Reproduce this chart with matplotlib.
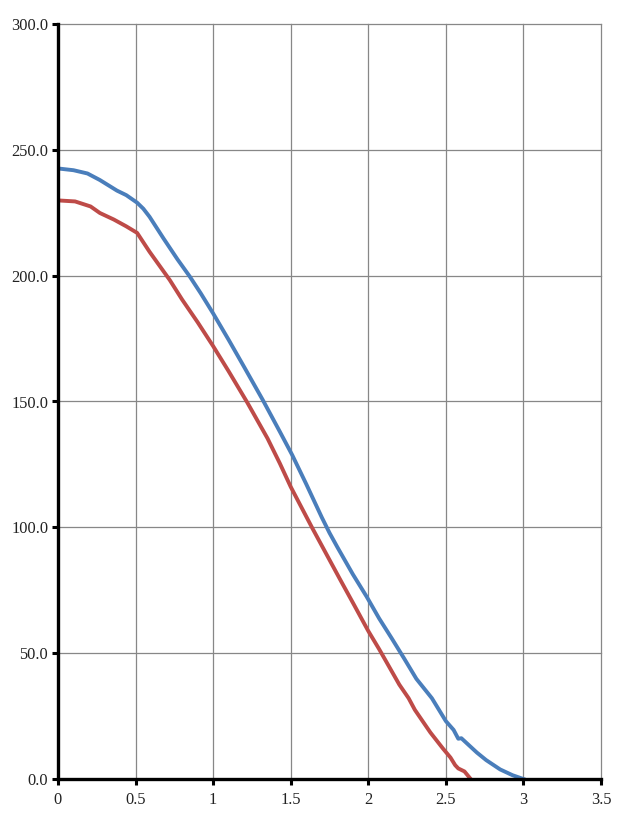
import matplotlib

matplotlib.use("Agg")
import matplotlib.pyplot as plt
from matplotlib.ticker import FuncFormatter

# values
blue_x = [0.0, 0.1, 0.19, 0.27, 0.38, 0.44, 0.51, 0.55, 0.59, 0.68, 0.77, 0.85, 0.92,
          1.0, 1.1, 1.2, 1.32, 1.43, 1.51, 1.6, 1.65, 1.7, 1.75, 1.8, 1.9, 1.99, 2.07,
          2.15, 2.23, 2.31, 2.41, 2.5, 2.55, 2.58, 2.6, 2.7, 2.76, 2.85, 2.93, 3.0]
blue_y = [242.6, 241.9, 240.6, 238.0, 233.8, 232.0, 229.0, 226.6, 223.4, 214.8, 206.5,
          199.6, 193.0, 185.0, 174.5, 163.7, 150.6, 138.0, 128.7, 117.2, 110.6, 104.0,
          97.8, 92.2, 81.4, 72.4, 63.8, 56.0, 48.0, 39.8, 32.1, 23.0, 19.5, 16.0, 16.2,
          10.5, 7.5, 3.8, 1.5, 0.0]

red_x = [0.0, 0.11, 0.21, 0.27, 0.36, 0.44, 0.51, 0.59, 0.72, 0.8, 0.9, 1.0, 1.1, 1.22,
         1.35, 1.43, 1.5, 1.64, 1.82, 1.91, 2.0, 2.07, 2.2, 2.26, 2.3, 2.4, 2.48, 2.53,
         2.56, 2.58, 2.62, 2.66]
red_y = [229.9, 229.5, 227.5, 224.9, 222.3, 219.6, 217.0, 209.5, 198.3, 190.5, 181.5,
         172.0, 162.0, 149.6, 135.4, 125.4, 116.1, 99.6, 79.1, 69.0, 58.8, 51.6, 37.5,
         32.1, 27.5, 18.5, 12.2, 8.5, 5.5, 4.2, 3.0, 0.0]

x_ticks = [0, 0.5, 1, 1.5, 2, 2.5, 3, 3.5]
y_ticks = [0, 50, 100, 150, 200, 250, 300]

plt.rcParams["font.family"] = ["Liberation Serif", "DejaVu Serif"]

figure = plt.figure(figsize=(6.24, 8.22), dpi=100)
axis = figure.add_axes([58 / 624, 1 - 779 / 822, (601 - 58) / 624, (779 - 24) / 822])

axis.plot(blue_x, blue_y, color="#4a7ebb", linewidth=2.8, zorder=3)
axis.plot(red_x, red_y, color="#be4b48", linewidth=2.8, zorder=3)

axis.set_xlim(0, 3.5)
axis.set_ylim(0, 300)
axis.set_xticks(x_ticks)
axis.set_yticks(y_ticks)
axis.xaxis.set_major_formatter(FuncFormatter(lambda v, _: f"{v:g}"))
axis.yaxis.set_major_formatter(FuncFormatter(lambda v, _: f"{v:.1f}"))

axis.grid(True, color="#878787", linewidth=0.9)
for line in axis.get_xgridlines() + axis.get_ygridlines():
    line.set_clip_on(False)
axis.set_axisbelow(True)
for side in ("top", "right"):
    axis.spines[side].set_visible(False)
for side in ("left", "bottom"):
    axis.spines[side].set_linewidth(2.4)
    axis.spines[side].set_color("black")
    axis.spines[side].set_zorder(4)

axis.tick_params(axis="both", direction="out", length=4, width=2.2, color="black",
                 labelsize=11.8, labelcolor="#222222")
axis.tick_params(axis="x", pad=5)
axis.tick_params(axis="y", pad=3)

figure.savefig("out.png", dpi=100)
